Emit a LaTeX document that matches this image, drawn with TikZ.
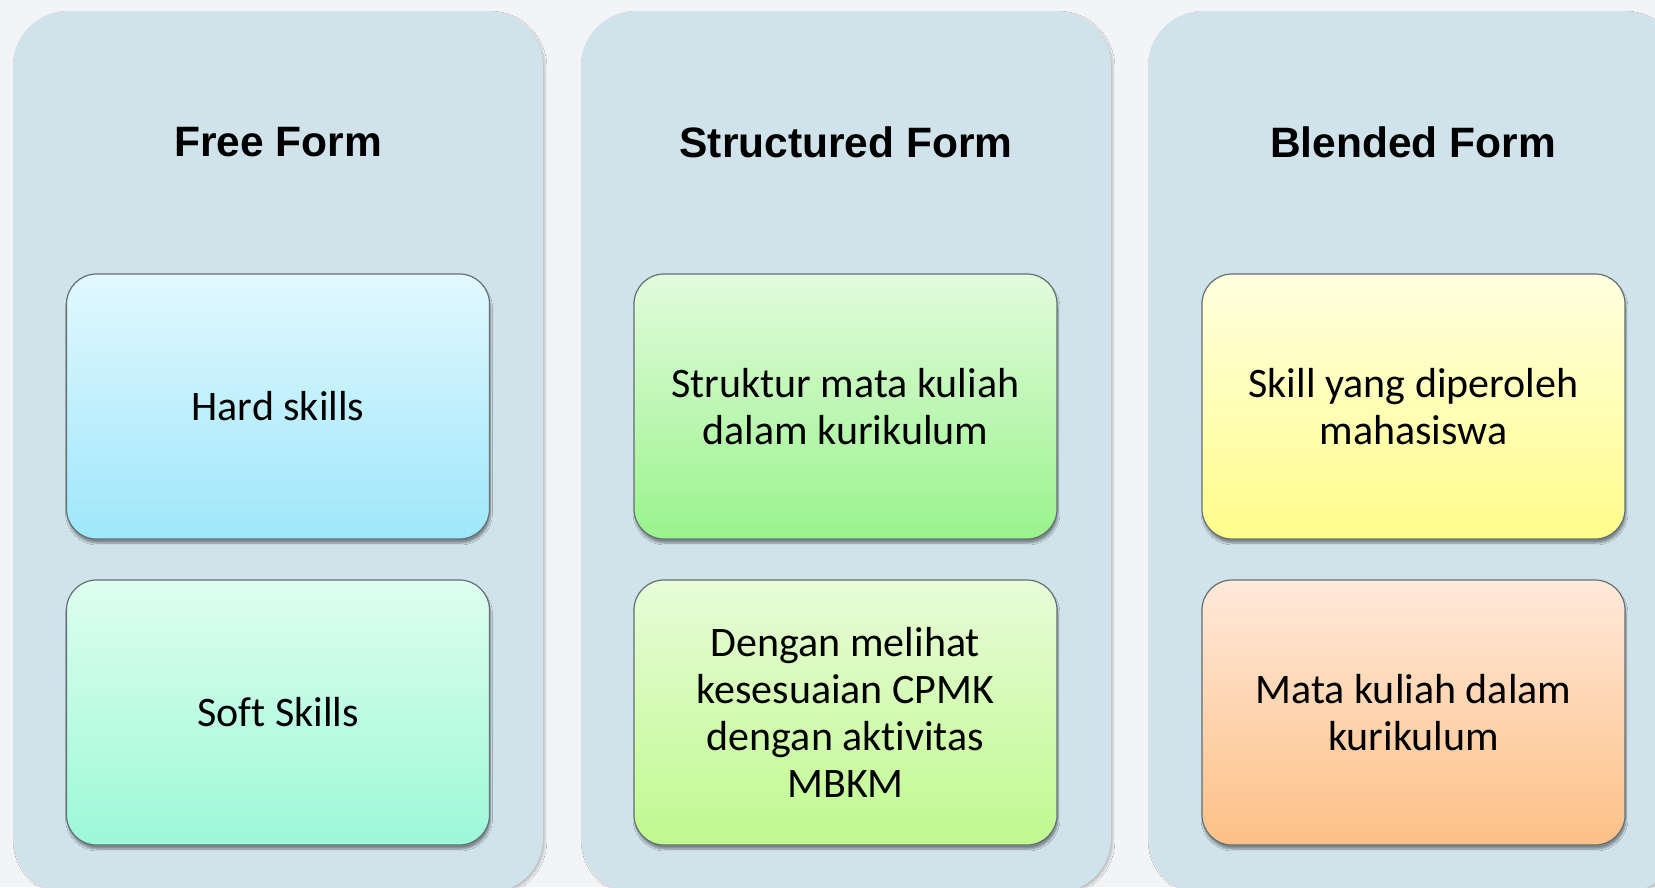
\documentclass[tikz,border=0pt]{standalone}
\usepackage{fontspec}
\setmainfont{Carlito}[Ligatures=NoCommon]
\newfontfamily\titlefont{Liberation Sans}
\usetikzlibrary{shadows.blur}
\definecolor{bgc}{RGB}{243,244,245}
\definecolor{panelc}{RGB}{208,226,234}
\definecolor{boxline}{RGB}{100,112,116}
\definecolor{hsT}{RGB}{226,248,254}\definecolor{hsB}{RGB}{158,231,251}
\definecolor{ssT}{RGB}{222,254,240}\definecolor{ssB}{RGB}{156,248,216}
\definecolor{stT}{RGB}{226,251,220}\definecolor{stB}{RGB}{154,243,141}
\definecolor{dmT}{RGB}{232,252,216}\definecolor{dmB}{RGB}{191,249,142}
\definecolor{syT}{RGB}{255,255,224}\definecolor{syB}{RGB}{255,253,138}
\definecolor{mkT}{RGB}{255,233,218}\definecolor{mkB}{RGB}{253,192,134}
\tikzset{
  panelbox/.style={fill=panelc, rounded corners=55pt, minimum width=530pt, minimum height=882pt,
    inner sep=0pt, blur shadow={shadow xshift=2pt, shadow yshift=-2pt, shadow blur steps=6, shadow opacity=22}},
  titletext/.style={font=\titlefont\bfseries\fontsize{42.5}{48}\selectfont, text=black, inner sep=0pt},
  itembox/.style={draw=boxline, line width=1.2pt, rounded corners=30pt, minimum width=423pt, minimum height=265pt,
    align=center, font=\fontsize{42}{47}\selectfont, text=black, inner sep=0pt,
    blur shadow={shadow xshift=1pt, shadow yshift=-4pt, shadow blur steps=6, shadow opacity=40}}
}
\begin{document}
\begin{tikzpicture}[x=1pt,y=-1pt]
\useasboundingbox (0,0) rectangle (1655,887);
\fill[bgc] (0,0) rectangle (1655,887);
\clip (0,0) rectangle (1655,887);
% panels
\node[panelbox] (p1) at (278,452) {};
\node[panelbox] (p2) at (846,452) {};
\node[panelbox] (p3) at (1413,452) {};
% titles
\node[titletext] (t1) at (278,142) {Free Form};
\node[titletext] (t2) at (846,142) {Structured Form};
\node[titletext] (t3) at (1413,142) {Blended Form};
% boxes
\node[itembox, top color=hsT, bottom color=hsB] (b11) at (278,406.5) {Hard skills};
\node[itembox, top color=ssT, bottom color=ssB] (b12) at (278,712.5) {Soft Skills};
\node[itembox, top color=stT, bottom color=stB] (b21) at (845.5,406.5) {Struktur mata kuliah\\dalam kurikulum};
\node[itembox, top color=dmT, bottom color=dmB] (b22) at (845.5,712.5) {Dengan melihat\\kesesuaian CPMK\\dengan aktivitas\\MBKM};
\node[itembox, top color=syT, bottom color=syB] (b31) at (1413.5,406.5) {Skill yang diperoleh\\mahasiswa};
\node[itembox, top color=mkT, bottom color=mkB] (b32) at (1413.5,712.5) {Mata kuliah dalam\\kurikulum};
\end{tikzpicture}
\end{document}
